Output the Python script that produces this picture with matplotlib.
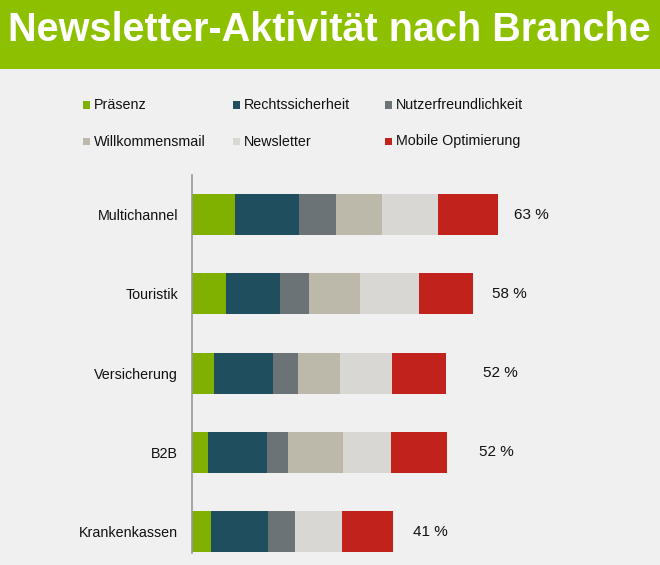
import matplotlib.pyplot as plt
from matplotlib.patches import Rectangle
import numpy as np

plt.rcParams['font.family'] = ['Liberation Sans', 'DejaVu Sans']

# Data
branchen = ['Multichannel', 'Touristik', 'Versicherung', 'B2B', 'Krankenkassen']
kriterien = ['Präsenz', 'Rechtssicherheit', 'Nutzerfreundlichkeit',
             'Willkommensmail', 'Newsletter', 'Mobile Optimierung']
praesenz = [9.0, 7.0, 4.6, 3.4, 4.0]
rechtssicherheit = [13.1, 11.1, 12.1, 12.1, 11.7]
nutzerfreundlichkeit = [7.5, 6.0, 5.1, 4.3, 5.5]
willkommensmail = [9.5, 10.5, 8.8, 11.3, 0.0]
newsletter = [11.6, 12.2, 10.6, 9.8, 9.7]
mobile = [12.3, 11.1, 11.1, 11.5, 10.5]
gesamt = [63, 58, 52, 52, 41]

colors = ['#80b000', '#1f4e5f', '#6b7377', '#bcb8aa', '#d8d7d3', '#c1221b']
bg = '#f0f0f0'
label_gap_px = [16, 19, 37, 32, 20]  # distance of the % label from bar end

W, H = 660, 565
fig = plt.figure(figsize=(W / 100, H / 100), dpi=100, facecolor=bg)

# green title banner
fig.patches.append(Rectangle((0, 1 - 69 / H), 1, 69 / H, transform=fig.transFigure,
                             facecolor='#8dc100', edgecolor='none', zorder=0))
fig.text(329 / W, 1 - 30 / H, 'Newsletter-Aktivität nach Branche', color='white',
         fontsize=28.5, fontweight='bold', ha='center', va='center')

# legend drawn by hand (3 columns, 2 rows)
leg_x = [83, 233, 385]
leg_y = [105, 141.5]
for i, (name, c) in enumerate(zip(kriterien, colors)):
    x = leg_x[i % 3]
    y = leg_y[i // 3]
    fig.patches.append(Rectangle((x / W, 1 - (y + 3.5) / H), 7 / W, 7 / H,
                                 transform=fig.transFigure, facecolor=c, edgecolor='none'))
    fig.text((x + 10.5) / W, 1 - y / H, name, fontsize=10.3, va='center', ha='left', color='#111111')

# bar chart
px_per_unit = 4.867
ax_left, ax_top, ax_bottom = 191.5, 175, 553
ax = fig.add_axes([ax_left / W, 1 - ax_bottom / H, (W - ax_left) / W, (ax_bottom - ax_top) / H])
ax.set_facecolor(bg)
ax.set_xlim(0, (W - ax_left) / px_per_unit)
ax.set_ylim(4.27, -0.5)

y = np.arange(len(branchen))
series = [praesenz, rechtssicherheit, nutzerfreundlichkeit, willkommensmail, newsletter, mobile]
left = np.zeros(len(branchen))
for vals, c, name in zip(series, colors, kriterien):
    ax.barh(y, vals, left=left, height=0.52, color=c, label=name)
    left += np.array(vals)

for i, tot in enumerate(gesamt):
    ax.text(left[i] + label_gap_px[i] / px_per_unit, y[i], f'{tot} %',
            fontsize=11, va='center', ha='left', color='#111111')

ax.set_yticks(y)
ax.set_yticklabels(branchen, fontsize=10.3, color='#111111')
ax.tick_params(axis='y', length=0, pad=9.5)
ax.set_xticks([])
for s in ['top', 'right', 'bottom']:
    ax.spines[s].set_visible(False)
ax.spines['left'].set_color('#999999')
ax.spines['left'].set_linewidth(1.2)

fig.savefig('out.png', dpi=100, facecolor=bg)
